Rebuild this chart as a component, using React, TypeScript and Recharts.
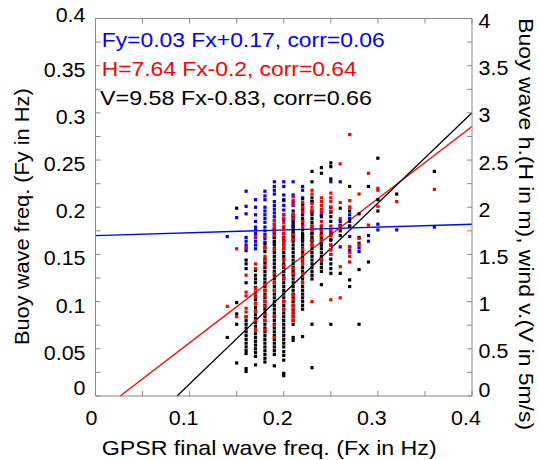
import React from 'react';
import { ScatterChart, Scatter, XAxis, YAxis, ReferenceLine } from 'recharts';

// GPSR final wave frequency columns (Fx, Hz)
const fxCols = [0.14, 0.15, 0.16, 0.17, 0.18, 0.19, 0.2, 0.21, 0.22, 0.23, 0.24, 0.25, 0.26, 0.27, 0.28, 0.29, 0.3, 0.32, 0.36];

// Buoy wave frequency Fy (Hz), per Fx column
const fyCols = [
  [0.169],
  [0.189],
  [0.217, 0.201, 0.193, 0.168, 0.164, 0.16, 0.157, 0.154],
  [0.208, 0.2, 0.192, 0.185, 0.179, 0.176, 0.172, 0.168, 0.164, 0.16, 0.156],
  [0.217, 0.212, 0.208, 0.2, 0.196, 0.192, 0.188, 0.184, 0.179, 0.175, 0.171, 0.167, 0.163],
  [0.227, 0.222, 0.218, 0.214, 0.206, 0.202, 0.198, 0.194, 0.19, 0.186, 0.182, 0.178, 0.174, 0.168, 0.162],
  [0.227, 0.222, 0.213, 0.207, 0.202, 0.197, 0.192, 0.187, 0.178, 0.172, 0.166],
  [0.227, 0.213, 0.206, 0.202, 0.19, 0.186, 0.181, 0.178, 0.174, 0.17, 0.166],
  [0.222, 0.218, 0.21, 0.203, 0.199, 0.195, 0.186, 0.181, 0.17, 0.166],
  [0.206, 0.195, 0.172, 0.165],
  [0.192, 0.17, 0.165, 0.16],
  [0.227, 0.195, 0.172, 0.166],
  [0.227, 0.185, 0.181, 0.158],
  [0.192, 0.188, 0.18, 0.169, 0.158, 0.154],
  [0.162, 0.157, 0.153],
  [0.17, 0.164],
  [0.182, 0.176],
  [0.176],
  [0.179],
];

// Buoy wave height H (m), per Fx column
const hCols = [
  [0.95],
  [1.56, 0.84],
  [1.57, 1.28, 1.1, 1.06, 0.93, 0.89, 0.84],
  [1.69, 1.4, 1.35, 1.14, 1.1, 1.05, 0.98, 0.9, 0.8, 0.7],
  [1.69, 1.57, 1.48, 1.44, 1.38, 1.18, 1.12, 1.06, 1.0, 0.95, 0.86, 0.8, 0.7],
  [1.86, 1.82, 1.78, 1.74, 1.7, 1.55, 1.3, 1.2, 1.12, 0.85, 0.75, 0.62],
  [1.92, 1.88, 1.84, 1.8, 1.76, 1.72, 1.68, 1.64, 1.6, 1.56, 1.45, 1.38, 1.25, 1.0, 0.92],
  [2.11, 2.07, 2.03, 1.92, 1.88, 1.71, 1.66, 1.35, 1.3, 1.07, 1.02, 0.96, 0.92, 0.88, 0.84, 0.8],
  [2.05, 2.0, 1.95, 1.85, 1.8, 1.55, 1.5, 1.45, 1.4, 1.3, 1.2],
  [2.18, 2.14, 2.04, 2.0, 1.96, 1.8, 1.76, 1.65, 1.6, 1.0],
  [2.1, 2.06, 2.02, 1.98, 1.95, 1.85, 1.8, 1.75, 1.7, 1.65, 1.45],
  [2.15, 2.1, 2.06, 2.0, 1.96, 1.8, 1.75, 1.7, 1.6, 1.55, 1.5, 1.02],
  [2.46, 2.05, 1.88, 1.8, 1.37, 1.04],
  [2.77, 2.07, 2.0, 1.58, 1.52, 1.48, 1.42],
  [2.14, 1.67, 1.6],
  [2.36, 1.81],
  [2.2, 2.18, 2.01],
  [2.06],
  [2.19],
];

// Wind speed V (in 5 m/s), per Fx column
const vCols = [
  [0.62],
  [1.99, 0.99, 0.87, 0.76, 0.35],
  [1.44, 1.4, 1.35, 1.2, 0.84, 0.8, 0.76, 0.72, 0.68, 0.64, 0.6, 0.56, 0.52, 0.48, 0.45, 0.29, 0.26],
  [1.33, 1.28, 1.24, 1.2, 1.15, 1.1, 1.06, 1.02, 0.98, 0.94, 0.9, 0.86, 0.82, 0.78, 0.74, 0.7, 0.66, 0.62, 0.58, 0.54, 0.5, 0.46, 0.42, 0.33],
  [1.61, 1.57, 1.53, 1.45, 1.41, 1.36, 1.32, 1.28, 1.24, 1.2, 1.16, 1.12, 1.08, 1.04, 1.0, 0.96, 0.92, 0.88, 0.84, 0.8, 0.76, 0.72, 0.68, 0.64, 0.6, 0.56, 0.52, 0.48, 0.44, 0.4, 0.36],
  [1.76, 1.72, 1.68, 1.64, 1.6, 1.56, 1.52, 1.48, 1.44, 1.4, 1.36, 1.32, 1.28, 1.24, 1.2, 1.16, 1.12, 1.08, 1.04, 1.0, 0.96, 0.92, 0.88, 0.84, 0.8, 0.76, 0.72, 0.68, 0.64, 0.6, 0.56, 0.52, 0.48, 0.44, 0.32],
  [2.08, 1.68, 1.64, 1.6, 1.56, 1.52, 1.48, 1.44, 1.4, 1.36, 1.32, 1.28, 1.24, 1.2, 1.16, 1.12, 1.08, 1.04, 1.0, 0.96, 0.92, 0.88, 0.84, 0.8, 0.76, 0.72, 0.68, 0.64, 0.6, 0.56, 0.52, 0.47, 0.43, 0.38, 0.24, 0.215],
  [1.96, 1.92, 1.88, 1.84, 1.8, 1.76, 1.72, 1.68, 1.64, 1.6, 1.56, 1.52, 1.48, 1.44, 1.4, 1.36, 1.32, 1.28, 1.24, 1.2, 1.16, 1.12, 1.08, 1.04, 1.0, 0.96, 0.92, 0.88, 0.84, 0.8, 0.76, 0.62, 0.59],
  [2.09, 2.04, 2.0, 1.96, 1.92, 1.88, 1.84, 1.8, 1.76, 1.72, 1.68, 1.64, 1.6, 1.56, 1.52, 1.48, 1.44, 1.4, 1.36, 1.32, 1.28, 1.24, 1.2, 1.16, 1.12, 1.08, 1.04, 1.0, 0.96, 0.92, 0.63],
  [2.38, 2.27, 2.1, 2.06, 1.96, 1.92, 1.88, 1.84, 1.8, 1.76, 1.72, 1.68, 1.64, 1.6, 1.56, 1.52, 1.48, 1.44, 1.4, 1.36, 1.32, 1.28, 1.24, 0.76, 0.3],
  [2.42, 2.36, 1.9, 1.8, 1.76, 1.72, 1.68, 1.64, 1.6, 1.56, 1.52, 1.48, 1.44, 1.4, 1.36, 1.32, 1.18],
  [2.47, 2.43, 2.3, 2.0, 1.95, 1.9, 1.85, 1.75, 1.7, 1.65, 1.6, 1.55, 1.5, 1.45, 1.4, 1.35, 1.3, 0.76],
  [1.99, 1.8, 1.75, 1.7, 1.3],
  [2.22, 2.0, 1.96, 1.85, 1.8, 1.23, 1.16],
  [1.93, 1.68, 1.34, 0.76],
  [2.22, 1.42],
  [2.52, 2.08, 1.96],
  [2.14],
  [2.38],
];

// Regression fits: Fy, H, V  (value = slope * Fx + intercept)
const fitNames = ['Fy', 'H', 'V'];
const fitSlopes = [0.03, 7.64, 9.58];
const fitIntercepts = [0.17, -0.2, -0.83];
const fitCorr = [0.06, 0.64, 0.66];

const xTicks = [0, 0.05, 0.1, 0.15, 0.2, 0.25, 0.3, 0.35, 0.4];
const xTickLabels = ['0', '', '0.1', '', '0.2', '', '0.3', '', '0.4'];
const leftTicks = [0, 0.025, 0.05, 0.075, 0.1, 0.125, 0.15, 0.175, 0.2, 0.225, 0.25, 0.275, 0.3, 0.325, 0.35, 0.375, 0.4];
const leftTickLabels = ['0', '', '0.05', '', '0.1', '', '0.15', '', '0.2', '', '0.25', '', '0.3', '', '0.35', '', '0.4'];
const rightTicks = [0, 0.25, 0.5, 0.75, 1, 1.25, 1.5, 1.75, 2, 2.25, 2.5, 2.75, 3, 3.25, 3.5, 3.75, 4];
const rightTickLabels = ['0', '', '0.5', '', '1', '', '1.5', '', '2', '', '2.5', '', '3', '', '3.5', '', '4'];

const BLUE = '#0000ff';
const RED = '#ff0000';
const BLACK = '#000000';
const AX = '#888888';
const FONT = '"Liberation Sans", Arial, Helvetica, sans-serif';
const TFS = 19.5;

const bluePts = fxCols.flatMap((fx, i) => fyCols[i].map((y) => ({ x: fx, y })));
const redPts = fxCols.flatMap((fx, i) => hCols[i].map((y) => ({ x: fx, y })));
const blackPts = fxCols.flatMap((fx, i) => vCols[i].map((y) => ({ x: fx, y })));

const fitSegments = fitSlopes.map((m, i) => {
  const b = fitIntercepts[i];
  const x0 = Math.max(0, -b / m);
  return [
    { x: x0, y: m * x0 + b },
    { x: 0.4, y: m * 0.4 + b },
  ];
});

const fmt2 = (v: number) => String(Number(v.toFixed(2)));
const fitText = fitNames.map((n, i) => {
  const m = fitSlopes[i];
  const b = fitIntercepts[i];
  const sign = b >= 0 ? '+' : '-';
  return `${n}=${fmt2(m)} Fx${sign}${fmt2(Math.abs(b))}, corr=${fitCorr[i].toFixed(2)}`;
});

const labelWidth = (s: string, fs: number) => {
  let w = 0;
  for (const c of s) w += c === '.' ? 0.278 : 0.556;
  return w * fs * 1.1;
};

const findLabel = (ticks: number[], labels: string[], v: number) => {
  const i = ticks.findIndex((t) => Math.abs(t - v) < 1e-9);
  return i >= 0 ? labels[i] : '';
};

const BottomTick = (p: any) => {
  const lab = findLabel(xTicks, xTickLabels, p.payload.value);
  return (
    <g>
      <line x1={p.x} x2={p.x} y1={p.y} y2={p.y - 5} stroke={AX} strokeWidth={1} />
      {lab ? (
        <text x={p.x + (lab === '0' ? -4 : -6)} y={p.y + 28.5} textAnchor="middle" fontSize={TFS} fontFamily={FONT} fill="#000" textLength={labelWidth(lab, TFS)} lengthAdjust="spacingAndGlyphs">
          {lab}
        </text>
      ) : null}
    </g>
  );
};

const TopTick = (p: any) => (
  <g>
    <line x1={p.x} x2={p.x} y1={p.y} y2={p.y + 5} stroke={AX} strokeWidth={1} />
  </g>
);

const LeftTick = (p: any) => {
  const v = p.payload.value;
  const lab = findLabel(leftTicks, leftTickLabels, v);
  const dy = v === 0 ? -1 : v >= 0.4 ? 3.5 : 11;
  return (
    <g>
      <line x1={p.x} x2={p.x + 5} y1={p.y} y2={p.y} stroke={AX} strokeWidth={1} />
      {lab ? (
        <text x={p.x - 10} y={p.y + dy} textAnchor="end" fontSize={TFS} fontFamily={FONT} fill="#000" textLength={labelWidth(lab, TFS)} lengthAdjust="spacingAndGlyphs">
          {lab}
        </text>
      ) : null}
    </g>
  );
};

const RightTick = (p: any) => {
  const v = p.payload.value;
  const lab = findLabel(rightTicks, rightTickLabels, v);
  const dy = v === 0 ? 0.5 : 9.5;
  return (
    <g>
      <line x1={p.x} x2={p.x - 5} y1={p.y} y2={p.y} stroke={AX} strokeWidth={1} />
      {lab ? (
        <text x={p.x + 6.5} y={p.y + dy} textAnchor="start" fontSize={TFS} fontFamily={FONT} fill="#000" textLength={labelWidth(lab, TFS)} lengthAdjust="spacingAndGlyphs">
          {lab}
        </text>
      ) : null}
    </g>
  );
};

const square = (color: string) => (props: any) => {
  if (props.cx == null || props.cy == null) return <g />;
  return <rect x={props.cx - 1.6} y={props.cy - 1.6} width={3.2} height={3.2} fill={color} />;
};

export default function App() {
  return (
    <div style={{ position: 'absolute', left: 0, top: 0, width: 539, height: 460, background: '#fff' }}>
      <ScatterChart width={539} height={460} margin={{ top: 17.5, right: 66, bottom: 63, left: 94.5 }}>
        <XAxis
          type="number"
          dataKey="x"
          xAxisId={0}
          domain={[0, 0.4]}
          ticks={xTicks}
          interval={0}
          height={1}
          tickSize={0}
          tickMargin={0}
          tickLine={false}
          axisLine={{ stroke: AX }}
          tick={BottomTick}
          allowDataOverflow
        />
        <XAxis
          type="number"
          dataKey="x"
          xAxisId="top"
          orientation="top"
          domain={[0, 0.4]}
          ticks={xTicks}
          interval={0}
          height={1}
          tickSize={0}
          tickMargin={0}
          tickLine={false}
          axisLine={{ stroke: AX }}
          tick={TopTick}
          allowDataOverflow
        />
        <YAxis
          type="number"
          dataKey="y"
          yAxisId="left"
          orientation="left"
          domain={[0, 0.4]}
          ticks={leftTicks}
          interval={0}
          width={1}
          tickSize={0}
          tickMargin={0}
          tickLine={false}
          axisLine={{ stroke: AX }}
          tick={LeftTick}
          allowDataOverflow
        />
        <YAxis
          type="number"
          dataKey="y"
          yAxisId="right"
          orientation="right"
          domain={[0, 4]}
          ticks={rightTicks}
          interval={0}
          width={1}
          tickSize={0}
          tickMargin={0}
          tickLine={false}
          axisLine={{ stroke: AX }}
          tick={RightTick}
          allowDataOverflow
        />
        <Scatter name="Fy" data={bluePts} xAxisId={0} yAxisId="left" fill={BLUE} shape={square(BLUE)} isAnimationActive={false} />
        <Scatter name="V" data={blackPts} xAxisId={0} yAxisId="right" fill={BLACK} shape={square(BLACK)} isAnimationActive={false} />
        <Scatter name="H" data={redPts} xAxisId={0} yAxisId="right" fill={RED} shape={square(RED)} isAnimationActive={false} />
        <ReferenceLine segment={fitSegments[0]} xAxisId={0} yAxisId="left" stroke={BLUE} strokeWidth={1.3} ifOverflow="visible" />
        <ReferenceLine segment={fitSegments[1]} xAxisId={0} yAxisId="right" stroke={RED} strokeWidth={1.3} ifOverflow="visible" />
        <ReferenceLine segment={fitSegments[2]} xAxisId={0} yAxisId="right" stroke={BLACK} strokeWidth={1.3} ifOverflow="visible" />
      </ScatterChart>
      <svg width={539} height={460} style={{ position: 'absolute', left: 0, top: 0, pointerEvents: 'none' }}>
        <text x={101.7} y={46.5} fontSize={21} fontFamily={FONT} fill={BLUE} textLength={283} lengthAdjust="spacingAndGlyphs">{fitText[0]}</text>
        <text x={101.7} y={76} fontSize={21} fontFamily={FONT} fill={RED} textLength={255} lengthAdjust="spacingAndGlyphs">{fitText[1]}</text>
        <text x={100} y={105} fontSize={21} fontFamily={FONT} fill={BLACK} textLength={272} lengthAdjust="spacingAndGlyphs">{fitText[2]}</text>
        <text x={269.2} y={455} textAnchor="middle" fontSize={21} fontFamily={FONT} fill="#000" textLength={335} lengthAdjust="spacingAndGlyphs">GPSR final wave freq. (Fx in Hz)</text>
        <text transform="translate(28.5,216.7) rotate(-90)" textAnchor="middle" fontSize={21} fontFamily={FONT} fill="#000" textLength={256.7} lengthAdjust="spacingAndGlyphs">Buoy wave freq. (Fy in Hz)</text>
        <text transform="translate(519,224.2) rotate(90)" textAnchor="middle" fontSize={21} fontFamily={FONT} fill="#000" textLength={411.7} lengthAdjust="spacingAndGlyphs">Buoy wave h.(H in m), wind v.(V in 5m/s)</text>
      </svg>
    </div>
  );
}
